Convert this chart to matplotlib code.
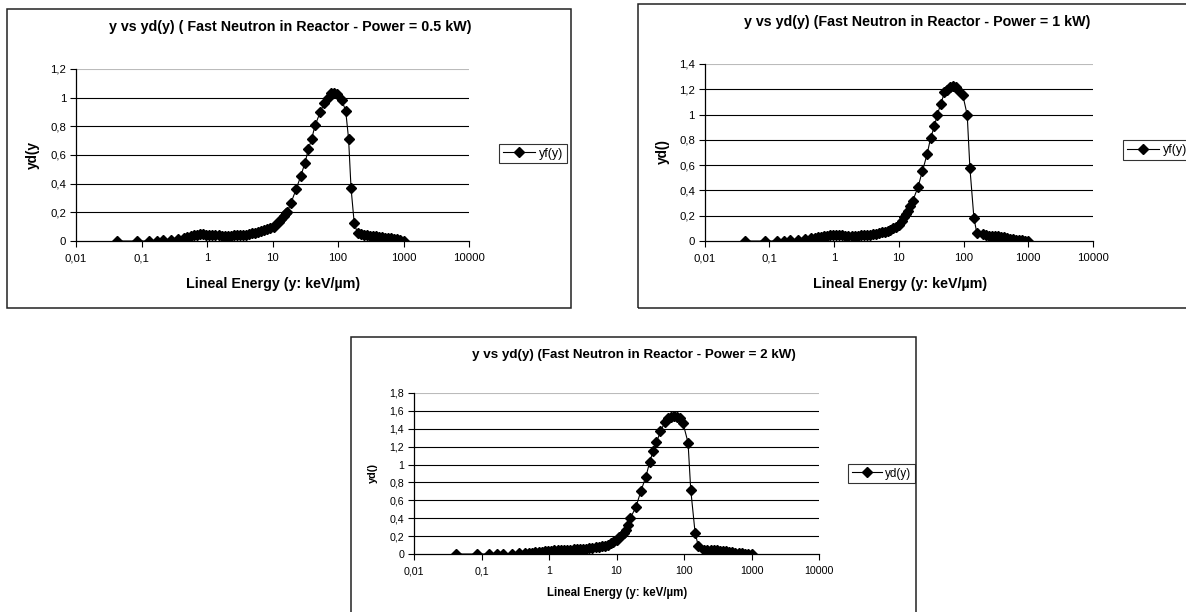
import matplotlib
matplotlib.use("Agg")
import matplotlib.pyplot as plt
from matplotlib.patches import Rectangle

plt.rcParams['font.family'] = ['Liberation Sans', 'DejaVu Sans']

# ---------------- data ----------------
X_TICKS = [0.01, 0.1, 1, 10, 100, 1000, 10000]
X_TICK_LABELS = ["0,01", "0,1", "1", "10", "100", "1000", "10000"]

# shared low-energy channels
X_LOW = [0.042, 0.085, 0.13, 0.17, 0.21, 0.28, 0.36, 0.44, 0.5, 0.56, 0.63, 0.7,
         0.78, 0.87, 0.97, 1.08, 1.2, 1.34, 1.5, 1.67, 1.86, 2.08, 2.32, 2.58,
         2.88, 3.2, 3.56, 3.96, 4.4, 4.9, 5.45, 6.05, 6.7, 7.4, 8.2, 9.0]
# shared high-energy tail channels
X_TAIL = [199, 222, 247, 275, 306, 340, 378, 420, 467, 520, 578, 643, 715, 795, 884, 1000]

# Panel 1 : Power = 0.5 kW
Y1_LOW = [0, 0, 0, 0, 0.005, 0.008, 0.014, 0.022, 0.028, 0.034, 0.04, 0.045,
          0.048, 0.047, 0.044, 0.042, 0.042, 0.041, 0.04, 0.036, 0.033, 0.035,
          0.038, 0.04, 0.04, 0.041, 0.042, 0.045, 0.049, 0.053, 0.058, 0.064,
          0.07, 0.077, 0.085, 0.092]
X1_MID = [10.5, 11.5, 12.6, 13.7, 14.9, 16.0, 16.9, 19.2, 22.9, 27.0, 31.4, 35.3,
          39.7, 44.7, 53.9, 61.2, 69.6, 77.2, 86.8, 97.6, 113.8, 131, 145, 158, 177]
Y1_MID = [0.10, 0.116, 0.135, 0.156, 0.177, 0.198, 0.205, 0.267, 0.36, 0.453,
          0.547, 0.64, 0.714, 0.807, 0.902, 0.96, 1.0, 1.035, 1.035, 1.026,
          0.984, 0.909, 0.714, 0.372, 0.123]
Y1_TAIL = [0.053, 0.049, 0.044, 0.04, 0.037, 0.035, 0.033, 0.03, 0.028, 0.023,
           0.021, 0.019, 0.014, 0.012, 0.007, 0.002]

# Panel 2 : Power = 1 kW
Y2_LOW = [0, 0, 0, 0.002, 0.004, 0.008, 0.014, 0.02, 0.024, 0.028, 0.033, 0.038,
          0.042, 0.045, 0.048, 0.049, 0.048, 0.046, 0.043, 0.04, 0.038, 0.04,
          0.043, 0.045, 0.047, 0.049, 0.051, 0.054, 0.058, 0.063, 0.069, 0.075,
          0.082, 0.09, 0.1, 0.11]
X2_MID = [10.2, 11.2, 12.2, 13.0, 13.8, 14.9, 16.4, 19.7, 23.2, 27.4, 30.9, 35.6,
          39.2, 44.6, 50.8, 55.8, 62.2, 68.4, 75.2, 82.7, 97.7, 114, 125.3, 144.6, 160.8]
Y2_MID = [0.13, 0.16, 0.19, 0.215, 0.24, 0.276, 0.316, 0.424, 0.554, 0.687,
          0.812, 0.91, 0.997, 1.085, 1.175, 1.196, 1.22, 1.228, 1.22, 1.196,
          1.151, 0.997, 0.581, 0.183, 0.061]
Y2_TAIL = [0.052, 0.047, 0.043, 0.04, 0.038, 0.036, 0.033, 0.028, 0.023, 0.018,
           0.014, 0.011, 0.008, 0.005, 0.003, 0.001]

# Panel 3 : Power = 2 kW
Y3_LOW = [0, 0, 0, 0, 0.002, 0.003, 0.006, 0.01, 0.013, 0.016, 0.019, 0.022,
          0.025, 0.028, 0.032, 0.036, 0.04, 0.044, 0.047, 0.048, 0.049, 0.05,
          0.052, 0.054, 0.056, 0.058, 0.061, 0.065, 0.069, 0.074, 0.08, 0.087,
          0.095, 0.105, 0.118, 0.135]
X3_MID = [10.0, 11.0, 12.0, 13.0, 14.0, 15.0, 16.1, 19.3, 22.9, 27.2, 31.1, 34.8,
          39.1, 44.8, 52.5, 58.8, 65.1, 71.3, 79.0, 86.5, 96.9, 114.8, 125.8, 145.9, 163.4]
Y3_MID = [0.16, 0.185, 0.21, 0.24, 0.27, 0.32, 0.406, 0.52, 0.70, 0.863, 1.03,
          1.15, 1.25, 1.37, 1.48, 1.52, 1.535, 1.545, 1.535, 1.515, 1.46, 1.245,
          0.72, 0.24, 0.085]
Y3_TAIL = [0.05, 0.047, 0.045, 0.042, 0.04, 0.037, 0.033, 0.028, 0.022, 0.018,
           0.014, 0.01, 0.007, 0.004, 0.002, 0.001]

TITLES = ["y vs yd(y) ( Fast Neutron in Reactor - Power = 0.5 kW)",
          "y vs yd(y) (Fast Neutron in Reactor - Power = 1 kW)",
          "y vs yd(y) (Fast Neutron in Reactor - Power = 2 kW)"]
YLABELS = ["yd(y", "yd()", "yd()"]
XLABEL = "Lineal Energy (y: keV/µm)"
LEGENDS = ["yf(y)", "yf(y)", "yd(y)"]
Y_MAX = [1.2, 1.4, 1.8]

# ---------------- layout (pixels) ----------------
W, H = 1186, 612
fig = plt.figure(figsize=(W / 100, H / 100), dpi=100)
fig.patch.set_facecolor("white")

def fx(px):
    return px / W

def fy(py):
    return 1 - py / H

panels = [
    dict(frame=(7, 9, 571, 308), plot=(76, 69, 469, 241), title=(290, 27),
         xlab=(273, 284), ylab=(33, 155), leg=(499, 153.5),
         fs_title=10.3, fs_xlab=10.3, fs_ylab=9.8, fs_tick=8.2, fs_leg=9.0,
         x=X_LOW + X1_MID + X_TAIL, y=Y1_LOW + Y1_MID + Y1_TAIL),
    dict(frame=(638, 4, 1200, 308), plot=(704.6, 64, 1093, 241), title=(917, 22),
         xlab=(900, 284), ylab=(663, 152), leg=(1123, 150),
         fs_title=10.3, fs_xlab=10.3, fs_ylab=9.8, fs_tick=8.2, fs_leg=9.0,
         x=X_LOW + X2_MID + X_TAIL, y=Y2_LOW + Y2_MID + Y2_TAIL),
    dict(frame=(351, 337, 916, 640), plot=(414, 393, 819, 554), title=(634, 355),
         xlab=(617, 593), ylab=(373, 473), leg=(848, 473.5),
         fs_title=9.6, fs_xlab=8.3, fs_ylab=7.8, fs_tick=7.7, fs_leg=8.4,
         x=X_LOW + X3_MID + X_TAIL, y=Y3_LOW + Y3_MID + Y3_TAIL),
]

for i, p in enumerate(panels):
    f0, f1, f2, f3 = p["frame"]
    fig.patches.append(Rectangle((fx(f0), fy(f3)), fx(f2 - f0), (f3 - f1) / H,
                                 transform=fig.transFigure, fill=False,
                                 edgecolor="#222222", lw=1.1))
    x0, y0, x1, y1 = p["plot"]
    ax = fig.add_axes([fx(x0), fy(y1), fx(x1 - x0), (y1 - y0) / H])
    ax.plot(p["x"], p["y"], color="black", lw=0.8, marker="D", ms=4.6,
            mfc="black", mec="black", label=LEGENDS[i])
    ax.set_xscale("log")
    ax.set_xlim(0.01, 10000)
    ax.set_ylim(0, Y_MAX[i])
    ax.set_xticks(X_TICKS)
    ax.set_xticklabels(X_TICK_LABELS)
    ax.minorticks_off()
    n = int(round(Y_MAX[i] / 0.2))
    yt = [k * 0.2 for k in range(n + 1)]
    ax.set_yticks(yt)
    ax.set_yticklabels(["0" if k == 0 else ("1" if k == 5 else f"{k*0.2:.1f}".replace(".", ","))
                        for k in range(n + 1)])
    ax.tick_params(axis="both", direction="out", length=4, width=0.8,
                   labelsize=p["fs_tick"], colors="black", pad=3)
    ax.tick_params(axis="x", pad=5)
    for side in ("top", "right"):
        ax.spines[side].set_visible(False)
    for side in ("left", "bottom"):
        ax.spines[side].set_color("black")
        ax.spines[side].set_linewidth(0.9)
    ax.set_axisbelow(True)
    ax.yaxis.grid(True, color="black", lw=0.8)
    ax.get_ygridlines()[-1].set_color("#bbbbbb")
    ax.get_ygridlines()[0].set_visible(False)

    fig.text(fx(p["title"][0]), fy(p["title"][1]), TITLES[i], ha="center",
             va="center", fontsize=p["fs_title"], fontweight="bold")
    fig.text(fx(p["xlab"][0]), fy(p["xlab"][1]), XLABEL, ha="center",
             va="center", fontsize=p["fs_xlab"], fontweight="bold")
    fig.text(fx(p["ylab"][0]), fy(p["ylab"][1]), YLABELS[i], ha="center",
             va="center", rotation=90, fontsize=p["fs_ylab"], fontweight="bold")

    lx, ly = p["leg"]
    leg = ax.legend(loc="center left", bbox_to_anchor=(fx(lx), fy(ly)),
                    bbox_transform=fig.transFigure, frameon=True, fancybox=False,
                    edgecolor="black", fontsize=p["fs_leg"], handlelength=2.6,
                    handletextpad=0.3, borderpad=0.3, borderaxespad=0)
    leg.get_frame().set_linewidth(0.8)

fig.savefig("out.png", dpi=100, facecolor="white")
